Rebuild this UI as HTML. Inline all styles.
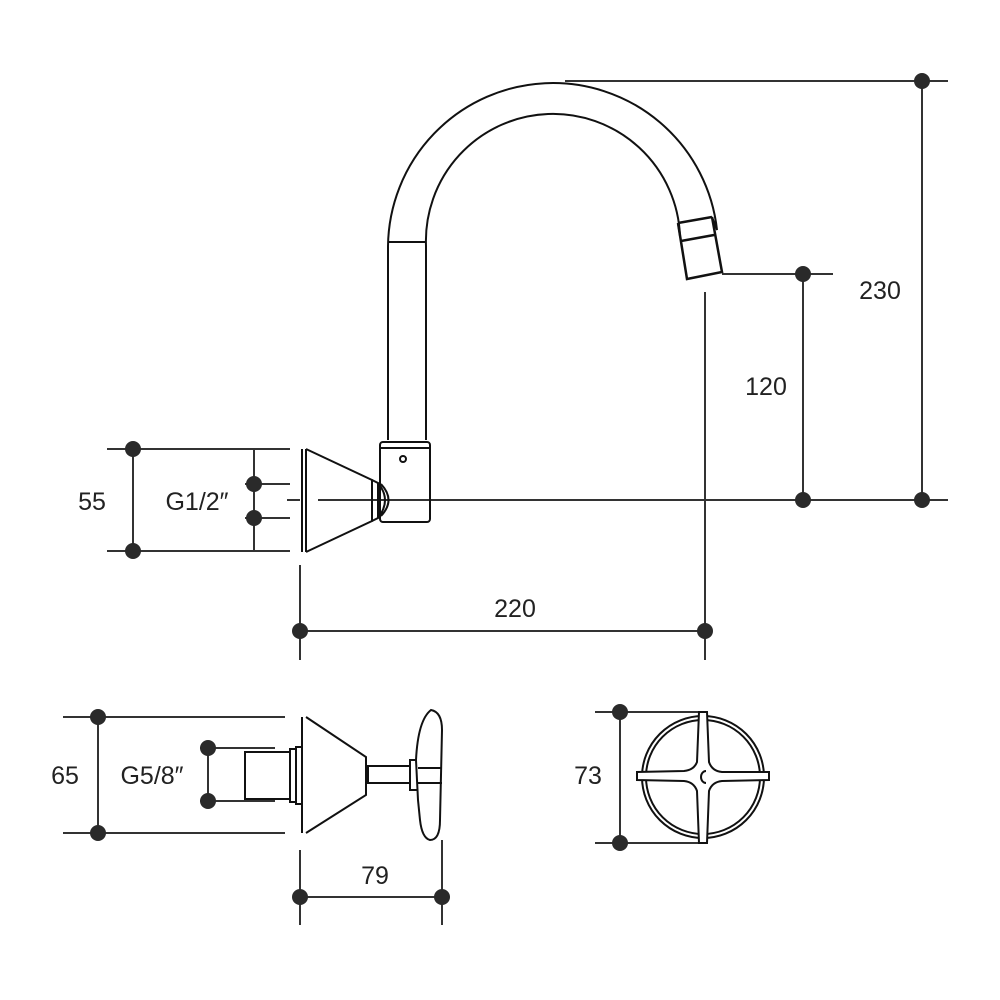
<!DOCTYPE html>
<html><head><style>html,body{margin:0;padding:0;background:#fff}svg{display:block}</style></head>
<body>
<svg width="1000" height="1000" viewBox="0 0 1000 1000" xmlns="http://www.w3.org/2000/svg" font-family="Liberation Sans, sans-serif" font-size="25" fill="none">
<g stroke="#333" stroke-width="2">
<line x1="107" y1="449" x2="290" y2="449"/><line x1="107" y1="551" x2="290" y2="551"/>
<line x1="133" y1="449" x2="133" y2="551"/>
<line x1="245" y1="484" x2="290" y2="484"/><line x1="245" y1="518" x2="290" y2="518"/>
<line x1="254" y1="449" x2="254" y2="551"/>
<line x1="287" y1="500" x2="300" y2="500"/><line x1="318" y1="500" x2="948" y2="500"/>
<line x1="300" y1="565" x2="300" y2="660"/><line x1="705" y1="292" x2="705" y2="660"/>
<line x1="300" y1="631" x2="705" y2="631"/>
<line x1="722" y1="274" x2="833" y2="274"/><line x1="803" y1="274" x2="803" y2="500"/>
<line x1="565" y1="81" x2="948" y2="81"/><line x1="922" y1="81" x2="922" y2="500"/>
<line x1="63" y1="717" x2="285" y2="717"/><line x1="63" y1="833" x2="285" y2="833"/>
<line x1="98" y1="717" x2="98" y2="833"/>
<line x1="200" y1="748" x2="275" y2="748"/><line x1="200" y1="801" x2="275" y2="801"/>
<line x1="208" y1="748" x2="208" y2="801"/>
<line x1="300" y1="850" x2="300" y2="925"/><line x1="442" y1="840" x2="442" y2="925"/>
<line x1="300" y1="897" x2="442" y2="897"/>
<line x1="595" y1="712" x2="700" y2="712"/><line x1="595" y1="843" x2="700" y2="843"/>
<line x1="620" y1="712" x2="620" y2="843"/>
</g>
<g fill="#2a2a2a">
<circle cx="133" cy="449" r="8"/><circle cx="133" cy="551" r="8"/>
<circle cx="254" cy="484" r="8"/><circle cx="254" cy="518" r="8"/>
<circle cx="300" cy="631" r="8"/><circle cx="705" cy="631" r="8"/>
<circle cx="803" cy="274" r="8"/><circle cx="803" cy="500" r="8"/>
<circle cx="922" cy="81" r="8"/><circle cx="922" cy="500" r="8"/>
<circle cx="98" cy="717" r="8"/><circle cx="98" cy="833" r="8"/>
<circle cx="208" cy="748" r="8"/><circle cx="208" cy="801" r="8"/>
<circle cx="300" cy="897" r="8"/><circle cx="442" cy="897" r="8"/>
<circle cx="620" cy="712" r="8"/><circle cx="620" cy="843" r="8"/>
</g>
<g fill="#222" text-anchor="middle">
<text x="92" y="510">55</text><text x="197" y="510">G1/2″</text>
<text x="515" y="617">220</text><text x="766" y="395">120</text>
<text x="880" y="299">230</text>
<text x="65" y="784">65</text><text x="152" y="784">G5/8″</text>
<text x="375" y="884">79</text><text x="588" y="784">73</text>
</g>
<g stroke="#111" stroke-width="2">
<path d="M388 440 V246 A165 165 0 0 1 717 230 L712 217"/>
<path d="M426 440 V246 A127 127 0 0 1 680 236 L678 223"/>
<line x1="388" y1="242" x2="426" y2="242"/>
<path d="M678 223 L712 217 M681 241 L714 235 M678 223 L687 279 L722 272 L712 217" stroke-width="2.5"/>
<rect x="380" y="442" width="50" height="80" rx="3"/>
<line x1="381" y1="448" x2="429" y2="448"/>
<circle cx="403" cy="459" r="3"/>
<path d="M302 449 V552 M306 449 V552 M306 449 L372 480 V521 L306 552"/>
<path d="M372 480 L378 483 V518 L372 521 M378 483 Q392 500 378 518 M381 484 Q396 500 381 516"/>
<rect x="245" y="752" width="45" height="47"/>
<rect x="290" y="749" width="6" height="53"/><rect x="296" y="747" width="6" height="57"/>
<path d="M302 717 V833 M306 717 L366 757 V795 L306 833"/>
<rect x="368" y="766" width="42" height="17"/>
<rect x="410" y="760" width="8" height="30"/>
<path d="M431 710 Q442 712 442 730 L440 820 Q440 840 430 840 Q422 838 420 820 L418 800 L416 760 Q418 720 431 710Z" fill="#fff"/>
<line x1="418" y1="768" x2="442" y2="768"/><line x1="418" y1="783" x2="442" y2="783"/>
<circle cx="703" cy="777" r="61"/><circle cx="703" cy="777" r="57"/>
<path d="M699 712 L707 712 L709 762 Q712 771 722 772 L769 772 L769 780 L722 781 Q712 782 709 791 L707 843 L699 843 L697 791 Q694 782 684 781 L637 780 L637 772 L684 771 Q694 770 697 762 Z" fill="#fff"/>
<path d="M706 771 A5 6 0 1 0 706 783"/>
</g>
</svg>
</body></html>
